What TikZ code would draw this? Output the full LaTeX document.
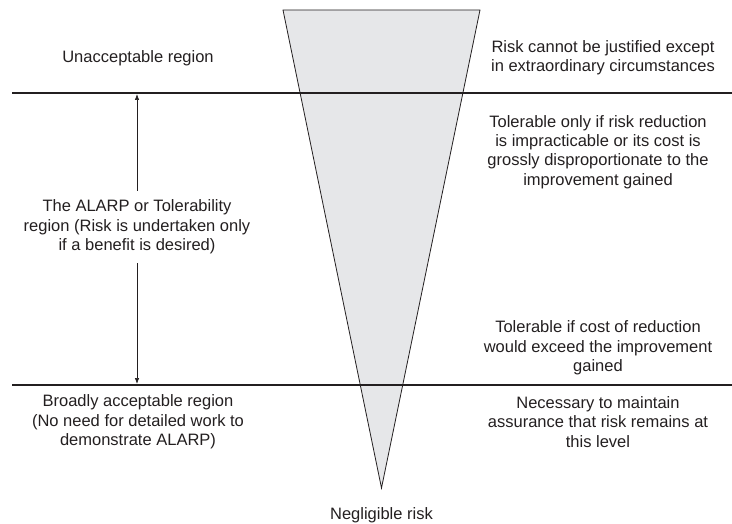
\documentclass[tikz,border=0pt]{standalone}
\usepackage{fontspec}
\setmainfont{Liberation Sans}
\usepackage{tikz}
\usetikzlibrary{arrows.meta}
\definecolor{cone}{RGB}{230,231,233}
\definecolor{ink}{RGB}{35,31,32}
\newcommand{\drawthick}{\draw[line width=1.6pt, ink]}
\newcommand{\regiontext}[3]{\node[regiontxt] (#1) at (#2) {#3};}

\begin{document}
\begin{tikzpicture}[x=1pt,y=-1pt,
  regiontxt/.style={align=center, font=\fontsize{16.5}{19.3}\selectfont, text=ink, inner sep=0pt},
  >={Latex[length=6pt,width=4.5pt]}]
\useasboundingbox (0,0) rectangle (732,524);
% the cone
\coordinate (coneL) at (283,10);
\coordinate (coneR) at (480,10);
\coordinate (apex) at (381.5,488);
\filldraw[fill=cone, draw=ink, line width=0.8pt] (coneL) -- (coneR) -- (apex) -- cycle;
% region borders
\coordinate (upperL) at (12,93);
\coordinate (upperR) at (732,93);
\coordinate (lowerL) at (12,385);
\coordinate (lowerR) at (732,385);
\drawthick (upperL) -- (upperR);
\drawthick (lowerL) -- (lowerR);
% ALARP span
\coordinate (spanTop) at (137,94);
\coordinate (spanBot) at (137,384);
\draw[ink, line width=0.7pt, <->] (spanTop) -- (spanBot);
% left column
\regiontext{unacc}{138,58}{Unacceptable region}
\node[regiontxt, fill=white, inner ysep=9pt] (alarp) at (137,227) {The ALARP or Tolerability\\region (Risk is undertaken only\\if a benefit is desired)};
\regiontext{broad}{138,422}{Broadly acceptable region\\(No need for detailed work to\\demonstrate ALARP)}
% right column
\regiontext{nojust}{603,58}{Risk cannot be justified except\\in extraordinary circumstances}
\regiontext{tolonly}{598,152}{Tolerable only if risk reduction\\is impracticable or its cost is\\grossly disproportionate to the\\improvement gained}
\regiontext{tolif}{598,348}{Tolerable if cost of reduction\\would exceed the improvement\\gained}
\regiontext{maintain}{598,422}{Necessary to maintain\\assurance that risk remains at\\this level}
% bottom
\regiontext{negl}{381.5,515}{Negligible risk}
\end{tikzpicture}
\end{document}
